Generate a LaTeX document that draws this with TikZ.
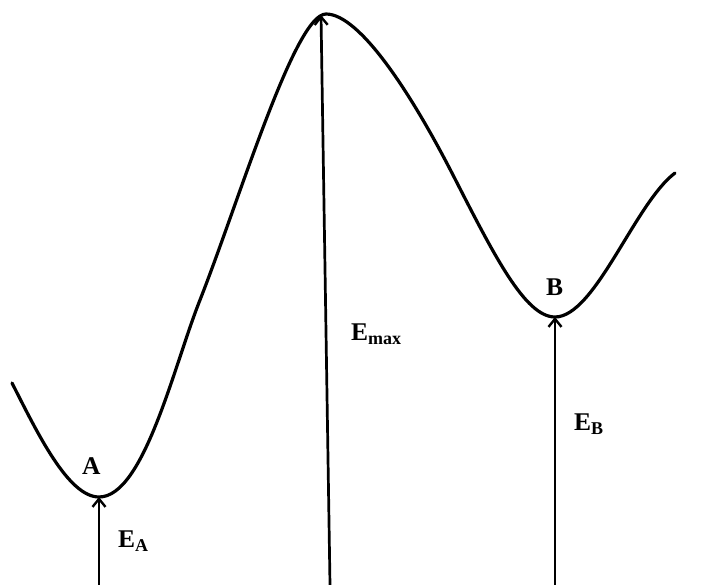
\documentclass[tikz,border=0pt]{standalone}
\usepackage{fontspec}
\setmainfont{Liberation Serif}
\usepackage{tikz}
\usetikzlibrary{positioning,arrows.meta}
\newcommand{\lowsub}[1]{\raisebox{-4.5pt}{\fontsize{18}{18}\selectfont #1}}

\begin{document}
\begin{tikzpicture}[x=1pt, y=-1pt,
  lab/.style={anchor=base west, inner sep=0pt, font=\bfseries\fontsize{25.5}{30}\selectfont},
  curve/.style={line width=3.2pt, line cap=round},
  up/.style={line width=2.7pt, -{Straight Barb[length=8pt, width=13pt, line width=2.4pt]}}]
\useasboundingbox (0,0) rectangle (712,585);
% points on the curve
\coordinate (minA) at (99,497);
\coordinate (peak) at (321,15);
\coordinate (minB) at (555,317);
\coordinate (footA) at (99,585);
\coordinate (footmax) at (330,585);
\coordinate (footB) at (555,585);
\draw[curve] (12,383) .. controls (37,432) and (68,497) .. (99,497)
  .. controls (144,497) and (174,365) .. (200,300)
  .. controls (240,198) and (295,14) .. (326,14)
  .. controls (360,14) and (412,95) .. (453,175)
  .. controls (494,255) and (525,317) .. (555,317)
  .. controls (595,317) and (635,203) .. (675,173);
% arrows
\draw[up] (footA) -- (minA);
\draw[up] (footmax) -- (peak);
\draw[up] (footB) -- (minB);
% labels
\node[lab] (labA) at (82,474) {A};
\node[lab] (labB) at (546,295) {B};
\node[lab] (labEA) at (118,547) {E\lowsub{A}};
\node[lab] (labEmax) at (351,340.5) {E\lowsub{max}};
\node[lab] (labEB) at (574,430) {E\lowsub{B}};
\end{tikzpicture}
\end{document}
